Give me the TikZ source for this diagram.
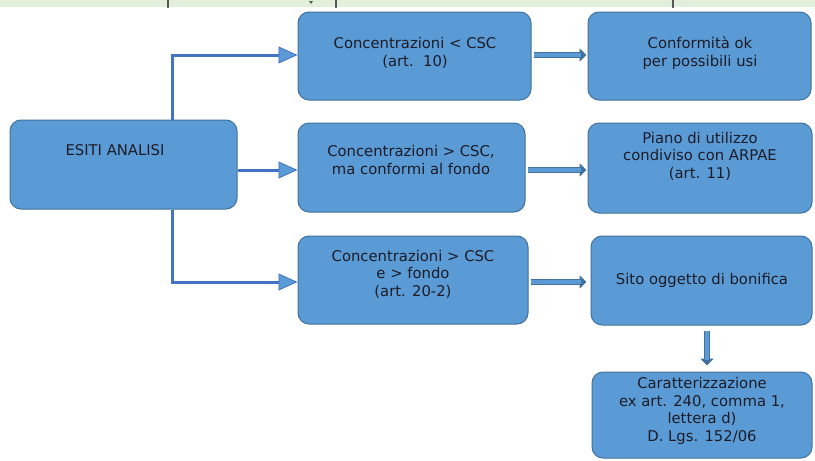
\documentclass[tikz,border=0pt]{standalone}
\usepackage{fontspec}
\setmainfont{DejaVu Sans}
\usetikzlibrary{arrows.meta,calc}
\definecolor{boxfill}{HTML}{5B9BD5}
\definecolor{boxline}{HTML}{41719C}
\definecolor{connline}{HTML}{4472C4}
\definecolor{txt}{HTML}{1C1C28}
\definecolor{band}{HTML}{E2EFDA}
\tikzset{
  x=1pt, y=-1pt,
  box/.style={draw=boxline, fill=boxfill, line width=1pt, rounded corners=11pt, inner sep=0pt},
  lbl/.style={text=txt, align=center, font=\fontsize{14.8}{17.5}\selectfont, inner sep=0pt},
  conn/.style={draw=connline, line width=3pt},
  connarr/.style={draw=connline, line width=3pt, -{Triangle[length=19pt,width=17pt,fill=boxfill,line width=0.8pt]}},
  blockarr/.style={draw=boxline, line width=5.5pt, -{Triangle[length=7pt,width=13pt]},
    postaction={draw=boxfill, line width=3.2pt, shorten >=6pt, -}},
}
\newcommand{\mkbox}[5]{% name, x1, y1, x2, y2
  \node[box, minimum width={#4-#2}, minimum height={#5-#3}] (#1) at ({(#2+#4)/2},{(#3+#5)/2}) {};}
\begin{document}
\begin{tikzpicture}
\useasboundingbox (0,0) rectangle (815,461);
\fill[white] (0,0) rectangle (815,461);
% top band
\fill[band] (0,0) rectangle (815,6.5);
\draw[gray!70!black, line width=1.2pt] (168,0) -- (168,8);
\draw[gray!70!black, line width=1.2pt] (336,0) -- (336,8);
\draw[gray!70!black, line width=1.2pt] (673,0) -- (673,8);
\fill[gray!70!black] (309,1) -- (313,1) -- (311,4) -- cycle;

% boxes
\mkbox{esiti}{10}{120}{237}{209}
\mkbox{b1}{298}{12}{531}{100}
\mkbox{b2}{298}{123}{525}{212}
\mkbox{b3}{298}{236}{528}{324}
\mkbox{r1}{588}{12}{811}{100}
\mkbox{r2}{588}{123}{812}{213}
\mkbox{r3}{591}{236}{812}{325}
\mkbox{r4}{592}{372}{812}{458}

% texts
\node[lbl] (esitit) at (115,150) {ESITI ANALISI};
\node[lbl] (b1t) at (415,53) {Concentrazioni < CSC\\(art.\ \ 10)};
\node[lbl] (b2t) at (411,160) {Concentrazioni > CSC,\\ma conformi al fondo};
\node[lbl] (b3t) at (413,274) {Concentrazioni > CSC\\e > fondo\\(art. 20-2)};
\node[lbl] (r1t) at (700,53) {Conformità ok\\per possibili usi};
\node[lbl] (r2t) at (700,156) {Piano di utilizzo\\condiviso con ARPAE\\(art. 11)};
\node[lbl] (r3t) at (702,280) {Sito oggetto di bonifica};
\node[lbl] (r4t) at (702,411) {Caratterizzazione\\ex art. 240, comma 1,\\lettera d)\\D. Lgs. 152/06};

% connectors from ESITI
\coordinate (jTop) at (172,55);
\coordinate (jBot) at (172,282);
\draw[conn] (esiti.north -| jTop) -- (jTop);
\draw[conn] (esiti.south -| jBot) -- (jBot);
\draw[connarr] ([xshift=-1.5pt]jTop) -- (jTop -| b1.west);
\draw[connarr] (esiti.east |- 0,170) -- (b2.west |- 0,170);
\draw[connarr] ([xshift=-1.5pt]jBot) -- (jBot -| b3.west);

% block arrows
\draw[blockarr] ([xshift=2pt]b1.east |- 0,55) -- ([xshift=-1pt]r1.west |- 0,55);
\draw[blockarr] ([xshift=2pt]b2.east |- 0,170) -- ([xshift=-1pt]r2.west |- 0,170);
\draw[blockarr] ([xshift=2pt]b3.east |- 0,282) -- ([xshift=-4pt]r3.west |- 0,282);
\draw[blockarr] ([yshift=-5pt]r3.south -| 707,0) -- ([yshift=6pt]r4.north -| 707,0);
\end{tikzpicture}
\end{document}
